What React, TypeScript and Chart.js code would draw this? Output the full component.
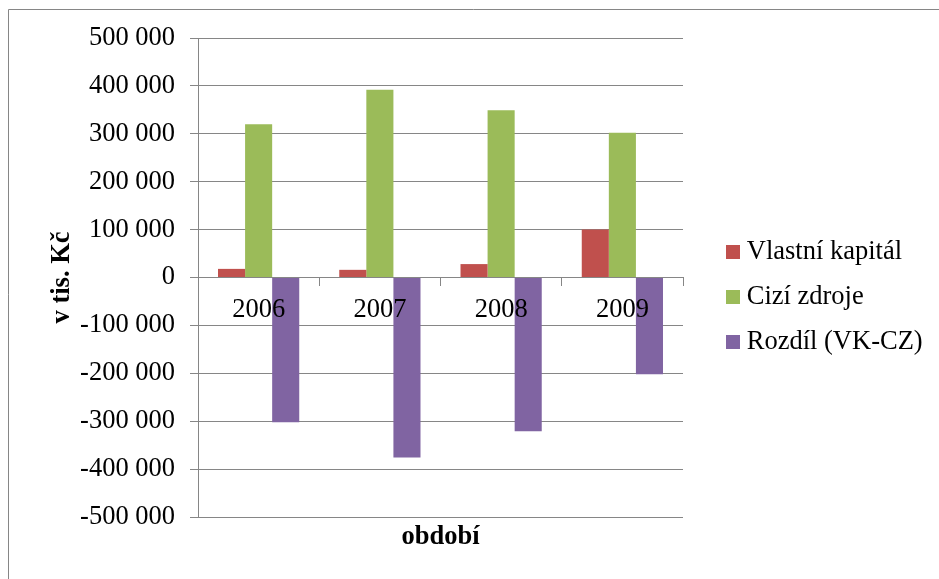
import React, { useEffect, useRef } from "react";
import { Chart, registerables } from "chart.js";

Chart.register(...registerables);

// Období (roky) a hodnoty v tis. Kč
const years = ["2006", "2007", "2008", "2009"];
const vlastniKapital = [18000, 16000, 28000, 100000];
const ciziZdroje = [320000, 392000, 349000, 302000];
const rozdil = [-302000, -376000, -321000, -202000];

const seriesNames = ["Vlastní kapitál", "Cizí zdroje", "Rozdíl (VK-CZ)"];
const seriesColors = ["#C0504D", "#9BBB59", "#8064A2"];

const yMin = -500000;
const yMax = 500000;
const yStep = 100000;

const FONT = "'Liberation Serif', 'Times New Roman', serif";
const FONT_SIZE = 26.5;
const LINE = "#868686";

function formatThousands(v: number): string {
  const s = Math.abs(v)
    .toString()
    .replace(/\B(?=(\d{3})+(?!\d))/g, " ");
  return (v < 0 ? "-" : "") + s;
}

function makeSwatch(color: string): HTMLCanvasElement {
  const c = document.createElement("canvas");
  c.width = 14;
  c.height = 14;
  const ctx = c.getContext("2d");
  if (ctx) {
    ctx.fillStyle = color;
    ctx.fillRect(0, 0, 14, 14);
  }
  return c;
}

// outer frame of the chart object (top and left edges)
const framePlugin = {
  id: "frame",
  afterDraw(chart: Chart) {
    const ctx = chart.ctx;
    ctx.save();
    ctx.strokeStyle = LINE;
    ctx.lineWidth = 1;
    ctx.beginPath();
    ctx.moveTo(8.5, chart.height);
    ctx.lineTo(8.5, 9.5);
    ctx.lineTo(chart.width, 9.5);
    ctx.stroke();
    ctx.restore();
  },
};

export default function App() {
  const canvasRef = useRef<HTMLCanvasElement | null>(null);

  useEffect(() => {
    const canvas = canvasRef.current;
    if (!canvas) return;
    const swatches = seriesColors.map(makeSwatch);
    const values = [vlastniKapital, ciziZdroje, rozdil];

    const chart = new Chart(canvas, {
      type: "bar",
      data: {
        labels: years,
        datasets: seriesNames.map((name, i) => ({
          label: name,
          data: values[i],
          backgroundColor: seriesColors[i],
          borderWidth: 0,
          categoryPercentage: 0.67,
          barPercentage: 1.0,
          yAxisID: "y",
        })),
      },
      options: {
        animation: false,
        responsive: true,
        maintainAspectRatio: false,
        layout: { padding: { left: 46, top: 38, right: 15, bottom: 23 } },
        scales: {
          x: {
            type: "category",
            position: { y: 0 } as any,
            offset: true,
            grid: {
              drawOnChartArea: false,
              drawTicks: true,
              tickLength: 8,
              color: LINE,
              offset: true,
            },
            border: { color: LINE, width: 1 },
            ticks: {
              z: 1,
              padding: 9,
              maxRotation: 0,
              color: "#000",
              font: { family: FONT, size: FONT_SIZE },
            },
          },
          y: {
            type: "linear",
            position: "left",
            min: yMin,
            max: yMax,
            grid: { color: LINE, tickLength: 8, lineWidth: 1 },
            border: { color: LINE, width: 1 },
            ticks: {
              stepSize: yStep,
              padding: 15,
              color: "#000",
              font: { family: FONT, size: FONT_SIZE },
              callback: (v: any) => formatThousands(Number(v)),
            },
            title: {
              display: true,
              text: "v tis. Kč",
              color: "#000",
              padding: 0,
              font: { family: FONT, size: FONT_SIZE, weight: "bold" },
            },
            afterFit: (s: any) => {
              s.width = 152;
            },
          },
          y2: {
            type: "linear",
            position: "right",
            display: true,
            grid: { display: false, drawTicks: false },
            border: { display: false },
            ticks: { display: false },
            afterFit: (s: any) => {
              s.width = 31;
            },
          },
        },
        plugins: {
          tooltip: { enabled: false },
          title: {
            display: true,
            text: "období",
            position: "bottom",
            fullSize: false,
            color: "#000",
            padding: { top: 4, bottom: 3.2 },
            font: { family: FONT, size: FONT_SIZE, weight: "bold" },
          },
          legend: {
            display: true,
            position: "right",
            align: "center",
            maxWidth: 210,
            labels: {
              usePointStyle: true,
              boxWidth: 1,
              padding: 18.5,
              color: "#000",
              font: { family: FONT, size: FONT_SIZE },
              generateLabels: (c: Chart) => {
                const items = (Chart.defaults.plugins.legend.labels as any).generateLabels(c);
                return items.map((it: any) => ({
                  ...it,
                  pointStyle: swatches[it.datasetIndex],
                }));
              },
            },
          },
        },
      },
      plugins: [framePlugin],
    });

    return () => {
      chart.destroy();
    };
  }, []);

  return (
    <div
      style={{
        position: "fixed",
        left: 0,
        top: 0,
        width: 939,
        height: 579,
        background: "#fff",
      }}
    >
      <canvas ref={canvasRef} />
    </div>
  );
}
